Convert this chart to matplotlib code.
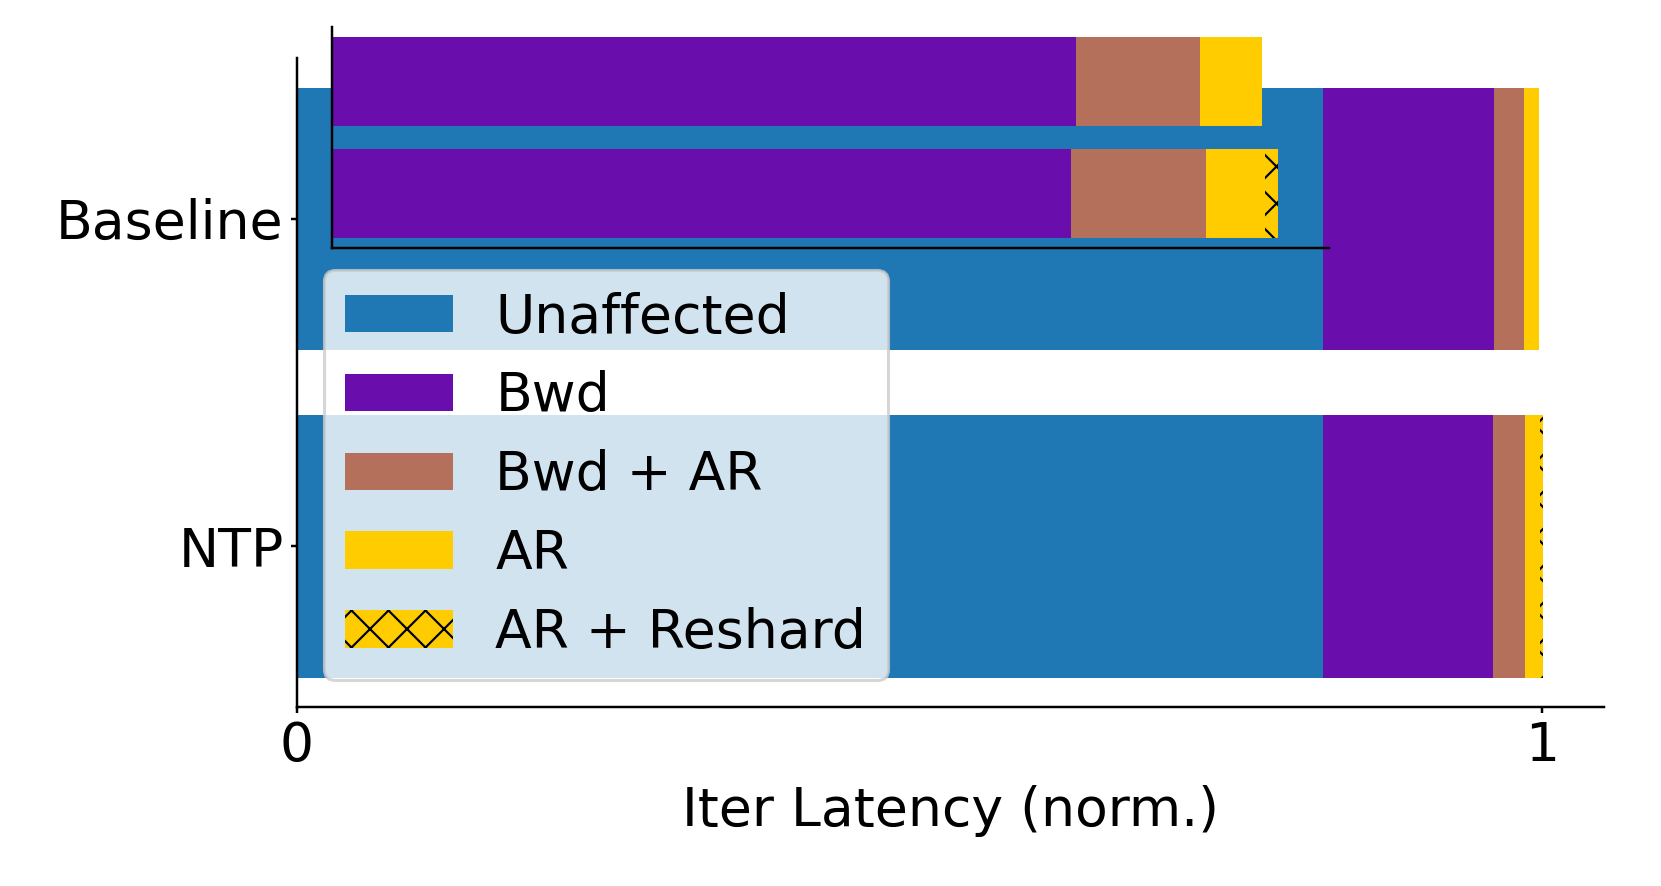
import matplotlib
matplotlib.use("Agg")
import matplotlib.pyplot as plt
import numpy as np

# bar segments (fraction of normalised iteration latency)
categories = ["Baseline", "NTP"]
unaffected = [0.824, 0.824]
bwd = [0.1374, 0.1364]
bwd_ar = [0.0241, 0.0262]
ar = [0.0121, 0.0115]
ar_reshard = [0.0, 0.0027]

labels = ["Unaffected", "Bwd", "Bwd + AR", "AR", "AR + Reshard"]
colors = ["#1f77b4", "#6a0dad", "#b4705a", "#ffcc00", "#ffcc00"]
hatches = [None, None, None, None, "xx"]

DPI = 222
plt.rcParams["font.size"] = 17.4
plt.rcParams["hatch.linewidth"] = 0.7

fig = plt.figure(figsize=(1661 / DPI, 886 / DPI), dpi=DPI)
ax = fig.add_axes([0.1788, 0.202, 0.787, 0.7325])
ins = fig.add_axes([0.2, 0.72, 0.6, 0.25])

segments = [unaffected, bwd, bwd_ar, ar, ar_reshard]
y = np.arange(len(categories))


def draw(a, skip_first=False):
    left = np.zeros(len(categories))
    for i, (vals, lab, c, h) in enumerate(zip(segments, labels, colors, hatches)):
        vals = np.array(vals)
        if skip_first and i == 0:
            left += vals
            continue
        if skip_first and i == 1:
            a.barh(y, left + vals, left=0, height=0.8, color=c,
                   hatch=h, edgecolor="black", linewidth=0, label=lab)
        else:
            a.barh(y, vals, left=left, height=0.8, color=c,
                   hatch=h, edgecolor="black", linewidth=0, label=lab)
        left += vals


draw(ax)
ax.set_xlim(0, 1.05)
ax.set_ylim(1.49, -0.49)
ax.set_yticks(y)
ax.set_yticklabels(categories)
ax.set_xticks([0, 1])
ax.set_xticklabels(["0", "1"])
ax.set_xlabel("Iter Latency (norm.)")
ax.spines["top"].set_visible(False)
ax.spines["right"].set_visible(False)
ax.tick_params(length=2, pad=2.3)
ax.legend(loc="lower left")

# zoomed inset on the tail of each bar
draw(ins, skip_first=True)
ins.set_xlim(0.8166, 1.0106)
ins.set_ylim(1.49, -0.49)
ins.set_facecolor("none")
ins.set_xticks([])
ins.set_yticks([])
ins.spines["top"].set_visible(False)
ins.spines["right"].set_visible(False)

fig.savefig("out.png", dpi=DPI)
